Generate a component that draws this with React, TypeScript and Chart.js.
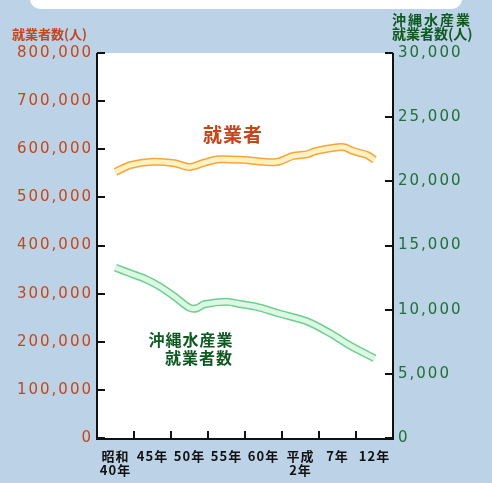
import { useEffect, useRef } from 'react';
import { Chart, registerables } from 'chart.js';

Chart.register(...registerables);

// Category (x) labels and the year each category is centred on
const categoryLabels: string[][] = [['昭和', '40年'], ['45年'], ['50年'], ['55年'], ['60年'], ['平成', '2年'], ['7年'], ['12年']];
const categoryYears = [1965, 1970, 1975, 1980, 1985, 1990, 1995, 2000];

// 就業者 (left axis)
const workerYears = [1965, 1967, 1970, 1973, 1975, 1977, 1979, 1982, 1985, 1987, 1989, 1991, 1992, 1995, 1996, 1997, 1999, 2000];
const workerValues = [553000, 567000, 574000, 571000, 563000, 572000, 579000, 578000, 574000, 574000, 586000, 590000, 596000, 604000, 604000, 597000, 588000, 578000];

// 沖縄水産業就業者数 (right axis)
const fisheryYears = [1965, 1967, 1969, 1971, 1973, 1975, 1976, 1977, 1980, 1982, 1984, 1987, 1991, 1994, 1997, 2000];
const fisheryValues = [13270, 12830, 12400, 11800, 11010, 10150, 10110, 10420, 10620, 10420, 10230, 9720, 9060, 8160, 7110, 6210];

// Tick values
const leftTicks = [0, 100000, 200000, 300000, 400000, 500000, 600000, 700000, 800000];
const rightTicks = [0, 5000, 10000, 15000, 20000, 25000, 30000];

const leftTitle = '就業者数(人)';
const rightTitle = ['沖縄水産業', '就業者数(人)'];
const workerLabel = '就業者';
const fisheryLabel = ['沖縄水産業', '就業者数'];

const BG = '#bcd2e6';
const ORANGE_TEXT = '#c4461a';
const GREEN_TEXT = '#0e5a22';
const GREEN_TICK = '#1e7034';

const fmt = (v: number) => v.toLocaleString('en-US');

const decorPlugin = {
  id: 'decor',
  beforeDraw(chart: any) {
    const { ctx, chartArea } = chart;
    ctx.save();
    ctx.fillStyle = BG;
    ctx.fillRect(0, 0, chart.width, chart.height);
    // white rounded band at the top
    ctx.fillStyle = '#ffffff';
    ctx.beginPath();
    (ctx as any).roundRect(30, -12, 432, 21, 10);
    ctx.fill();
    // white plot area
    ctx.fillRect(chartArea.left, chartArea.top, chartArea.right - chartArea.left, chartArea.bottom - chartArea.top);
    ctx.restore();
  },
  afterDraw(chart: any) {
    const { ctx, chartArea, scales } = chart;
    const x = scales.x, yL = scales.yL, yR = scales.yR;
    const L = chartArea.left, R = chartArea.right, T = chartArea.top, B = chartArea.bottom;
    ctx.save();
    ctx.strokeStyle = '#111111';
    ctx.lineWidth = 2;
    // axes
    ctx.beginPath();
    ctx.moveTo(L, T); ctx.lineTo(L, B + 1); ctx.lineTo(R, B + 1); ctx.lineTo(R, T);
    ctx.stroke();
    // left ticks
    leftTicks.forEach((v) => {
      const py = Math.round(yL.getPixelForValue(v));
      ctx.beginPath(); ctx.moveTo(L, py); ctx.lineTo(L + 8, py); ctx.stroke();
    });
    rightTicks.forEach((v) => {
      const py = Math.round(yR.getPixelForValue(v));
      ctx.beginPath(); ctx.moveTo(R, py); ctx.lineTo(R - 8, py); ctx.stroke();
    });
    // bottom ticks between categories
    for (let i = 0; i < categoryYears.length - 1; i++) {
      const px = Math.round(x.getPixelForValue((categoryYears[i] + categoryYears[i + 1]) / 2));
      ctx.beginPath(); ctx.moveTo(px, B + 1); ctx.lineTo(px, B - 7); ctx.stroke();
    }
    const c: any = ctx;
    // left tick labels
    c.letterSpacing = '2px';
    ctx.font = '15px "DejaVu Sans"';
    ctx.fillStyle = ORANGE_TEXT;
    ctx.textAlign = 'right';
    ctx.textBaseline = 'middle';
    leftTicks.forEach((v) => {
      ctx.fillText(fmt(v), L - 4, yL.getPixelForValue(v));
    });
    // right tick labels
    ctx.fillStyle = GREEN_TICK;
    ctx.textAlign = 'left';
    rightTicks.forEach((v) => {
      ctx.fillText(fmt(v), R + 5, yR.getPixelForValue(v));
    });
    // x labels
    c.letterSpacing = '1px';
    ctx.font = 'bold 13px "Noto Sans CJK JP"';
    ctx.fillStyle = '#111111';
    ctx.textAlign = 'center';
    categoryLabels.forEach((lines, i) => {
      const px = x.getPixelForValue(categoryYears[i]);
      lines.forEach((t, j) => ctx.fillText(t, px, B + 18 + j * 14));
    });
    // axis titles
    c.letterSpacing = '0px';
    ctx.font = 'bold 13px "Noto Sans CJK JP"';
    ctx.textAlign = 'left';
    ctx.fillStyle = ORANGE_TEXT;
    ctx.fillText(leftTitle, 12, 34);
    c.letterSpacing = '2px';
    ctx.fillStyle = GREEN_TEXT;
    ctx.font = 'bold 14px "Noto Sans CJK JP"';
    ctx.fillText(rightTitle[0], 392, 20);
    c.letterSpacing = '0px';
    ctx.font = 'bold 14px "Noto Sans CJK JP"';
    ctx.fillText(rightTitle[1], 392, 34);
    // series labels
    ctx.textAlign = 'center';
    c.letterSpacing = '1px';
    ctx.font = 'bold 19px "Noto Sans CJK JP"';
    ctx.fillStyle = ORANGE_TEXT;
    ctx.fillText(workerLabel, 233, 135);
    ctx.font = 'bold 16px "Noto Sans CJK JP"';
    ctx.fillStyle = GREEN_TEXT;
    ctx.fillText(fisheryLabel[0], 191, 340);
    ctx.fillText(fisheryLabel[1], 199, 358);
    ctx.restore();
  },
};

export default function App() {
  const ref = useRef<HTMLCanvasElement | null>(null);
  useEffect(() => {
    if (!ref.current) return;
    const workerData = workerYears.map((yr, i) => ({ x: yr, y: workerValues[i] }));
    const fisheryData = fisheryYears.map((yr, i) => ({ x: yr, y: fisheryValues[i] }));
    const common = { pointRadius: 0, tension: 0.3, fill: false };
    const chart = new Chart(ref.current, {
      type: 'line',
      data: {
        datasets: [
          { ...common, order: 2, label: 'worker-outline', data: workerData, borderColor: '#f6a43c', borderWidth: 8, xAxisID: 'x', yAxisID: 'yL' },
          { ...common, order: 1, label: workerLabel, data: workerData, borderColor: '#fff2c0', borderWidth: 5, xAxisID: 'x', yAxisID: 'yL' },
          { ...common, order: 2, label: 'fishery-outline', data: fisheryData, borderColor: '#6ccf8c', borderWidth: 8, xAxisID: 'x', yAxisID: 'yR' },
          { ...common, order: 1, label: fisheryLabel.join(''), data: fisheryData, borderColor: '#dcf8e4', borderWidth: 5, xAxisID: 'x', yAxisID: 'yR' },
        ],
      },
      options: {
        responsive: false,
        devicePixelRatio: 1,
        animation: false,
        events: [],
        layout: { padding: { left: 97, right: 99, top: 53, bottom: 45 } },
        plugins: { legend: { display: false }, tooltip: { enabled: false } },
        scales: {
          x: { type: 'linear', min: 1962.5, max: 2002.5, display: false },
          yL: { type: 'linear', position: 'left', min: 0, max: 800000, display: false },
          yR: { type: 'linear', position: 'right', min: 0, max: 30000, display: false },
        },
      },
      plugins: [decorPlugin],
    } as any);
    return () => chart.destroy();
  }, []);
  return (
    <div style={{ position: 'absolute', left: 0, top: 0 }}>
      <canvas ref={ref} width={492} height={483} style={{ display: 'block' }} />
    </div>
  );
}
